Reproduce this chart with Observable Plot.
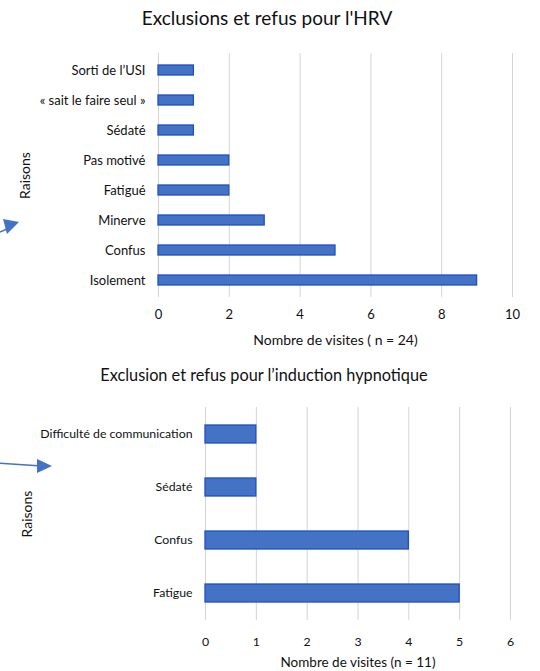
<!DOCTYPE html>
<html>
<head>
<meta charset="utf-8">
<script src="https://cdn.jsdelivr.net/npm/d3@7"></script>
<script src="https://cdn.jsdelivr.net/npm/@observablehq/plot@0.6"></script>
<style>
  html, body { margin: 0; padding: 0; background: #fff; }
  #wrap { position: relative; width: 540px; height: 671px; overflow: hidden; font-family: Lato, "Open Sans", sans-serif; color: #111; }
  .title { position: absolute; left: 0; width: 540px; text-align: center; white-space: nowrap; color: #111; }
  .chart { position: absolute; left: 0; }
  .deco { position: absolute; left: 0; top: 0; }
</style>
</head>
<body>
<div id="wrap">
  <div class="title" id="t1" style="top:6px; font-size:19px; left:-3px;"></div>
  <div class="chart" id="c1" style="top:0px;"></div>
  <div class="title" id="t2" style="top:365px; font-size:16.3px; left:-6px;"></div>
  <div class="chart" id="c2" style="top:350px;"></div>
  <svg class="deco" width="60" height="671">
    <line x1="0" y1="232" x2="9" y2="228" stroke="#4472C4" stroke-width="1.5"/>
    <polygon points="3,219 19,222 7,234" fill="#4472C4"/>
    <line x1="0" y1="463.3" x2="38" y2="465.7" stroke="#4472C4" stroke-width="1.5"/>
    <polygon points="37,459 52,466 37,473" fill="#4472C4"/>
  </svg>
</div>
<script>
// Chart 1 data
const title1 = "Exclusions et refus pour l'HRV";
const reasons1 = ["Sorti de l\u2019USI", "\u00ab sait le faire seul \u00bb", "S\u00e9dat\u00e9", "Pas motiv\u00e9", "Fatigu\u00e9", "Minerve", "Confus", "Isolement"];
const visits1 = [1, 1, 1, 2, 2, 3, 5, 9];
const xTicks1 = [0, 2, 4, 6, 8, 10];
const xLabel1 = "Nombre de visites ( n = 24)";
const yLabel1 = "Raisons";

// Chart 2 data
const title2 = "Exclusion et refus pour l\u2019induction hypnotique";
const reasons2 = ["Difficult\u00e9 de communication", "S\u00e9dat\u00e9", "Confus", "Fatigue"];
const visits2 = [1, 1, 4, 5];
const xTicks2 = [0, 1, 2, 3, 4, 5, 6];
const xLabel2 = "Nombre de visites (n = 11)";
const yLabel2 = "Raisons";

const fill = "#4472C4";
const stroke = "#1f4fc4";
const font = "Lato, 'Open Sans', sans-serif";

document.getElementById("t1").textContent = title1;
document.getElementById("t2").textContent = title2;

function chart({reasons, visits, xTicks, xLabel, yLabel, height, mt, mb, ml, mr, pad, tickFont, labelFont, labelDy, yLabelDx, tickPadX}) {
  const data = reasons.map((r, i) => ({reason: r, value: visits[i]}));
  return Plot.plot({
    width: 540,
    height,
    marginTop: mt, marginBottom: mb, marginLeft: ml, marginRight: mr,
    style: {fontFamily: font, fontSize: tickFont + "px", color: "#111", background: "transparent"},
    x: {domain: [xTicks[0], xTicks[xTicks.length - 1]], ticks: xTicks, tickFormat: "d", tickSize: 0, tickPadding: tickPadX, label: null},
    y: {domain: reasons, paddingInner: pad, paddingOuter: pad / 2, tickSize: 0, tickPadding: 13, label: null},
    marks: [
      Plot.gridX(xTicks, {stroke: "#d4d4d4", strokeOpacity: 1, strokeWidth: 1}),
      Plot.barX(data, {x: "value", y: "reason", fill, stroke, strokeWidth: 1.3}),
      Plot.text([xLabel], {frameAnchor: "bottom", dy: labelDy, lineAnchor: "middle", fontSize: labelFont, fill: "#111"}),
      Plot.text([yLabel], {frameAnchor: "left", dx: yLabelDx, rotate: -90, textAnchor: "middle", lineAnchor: "middle", fontSize: 14, fill: "#111"})
    ]
  });
}

document.getElementById("c1").appendChild(chart({
  reasons: reasons1, visits: visits1, xTicks: xTicks1, xLabel: xLabel1, yLabel: yLabel1,
  height: 350, mt: 53, mb: 53, ml: 158, mr: 28, pad: 0.67, tickFont: 13, labelFont: 14, labelDy: 43, yLabelDx: -133, tickPadX: 12
}));
document.getElementById("c2").appendChild(chart({
  reasons: reasons2, visits: visits2, xTicks: xTicks2, xLabel: xLabel2, yLabel: yLabel2,
  height: 321, mt: 57, mb: 51, ml: 205, mr: 30, pad: 0.66, tickFont: 12.3, labelFont: 13.5, labelDy: 42, yLabelDx: -178, tickPadX: 17
}));
</script>
</body>
</html>
